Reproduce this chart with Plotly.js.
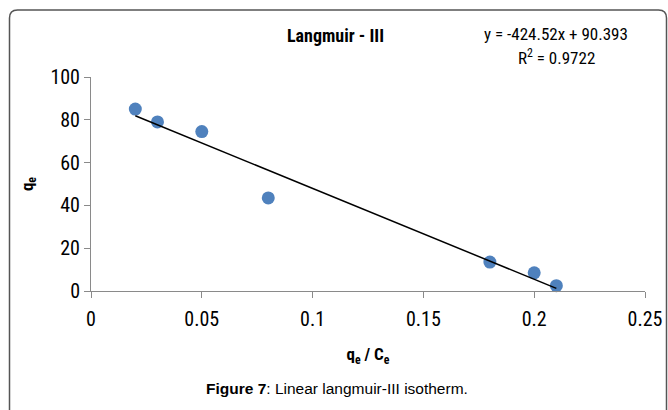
<!DOCTYPE html>
<html>
<head>
<meta charset="utf-8">
<script src="https://cdn.plot.ly/plotly-3.0.1.min.js"></script>
<style>
html,body{margin:0;padding:0;background:#fff;}
#chart{width:668px;height:410px;}
</style>
</head>
<body>
<div id="chart"></div>
<script>
// Data
const xValues = [0.02, 0.03, 0.05, 0.08, 0.18, 0.20, 0.21];
const yValues = [85, 79, 74.5, 43.5, 13.5, 8.5, 2.5];
// Trendline as stated on the chart: y = -424.52x + 90.393
const trendSlope = -424.52;
const trendIntercept = 90.393;
const trendX = [0.02, 0.21];
const trendY = trendX.map(function (x) { return trendSlope * x + trendIntercept; });
const xTicks = [0, 0.05, 0.1, 0.15, 0.2, 0.25];
const xTickLabels = ['0', '0.05', '0.1', '0.15', '0.2', '0.25'];
const yTicks = [0, 20, 40, 60, 80, 100];

const narrow = '"Liberation Sans Narrow", "Roboto Condensed", Roboto, sans-serif';

// plot area: x 91..645, y 77..291 (px)
const W = 554, H = 214, L = 91, B = 291;
function px(x) { return (x - L) / W; }
function py(y) { return (B - y) / H; }

const x0 = px(9.5), x1 = px(666.5), y0 = py(10), y1 = py(430);
const rx = 8 / W, ry = 8 / H;
const borderPath = 'M ' + x0 + ',' + y1 +
  ' L ' + x0 + ',' + (y0 - ry) +
  ' Q ' + x0 + ',' + y0 + ' ' + (x0 + rx) + ',' + y0 +
  ' L ' + (x1 - rx) + ',' + y0 +
  ' Q ' + x1 + ',' + y0 + ' ' + x1 + ',' + (y0 - ry) +
  ' L ' + x1 + ',' + y1;

const traces = [
  {
    x: xValues, y: yValues, type: 'scatter', mode: 'markers',
    marker: { color: '#4F81BD', size: 13, line: { width: 0 } },
    showlegend: false, cliponaxis: false
  },
  {
    x: trendX, y: trendY, type: 'scatter', mode: 'lines',
    line: { color: '#000000', width: 1.5 },
    showlegend: false
  }
];

const layout = {
  width: 668, height: 410,
  margin: { l: 91, r: 23, t: 77, b: 119, pad: 0 },
  paper_bgcolor: '#ffffff', plot_bgcolor: '#ffffff',
  showlegend: false,
  xaxis: {
    range: [0, 0.25], tickvals: xTicks, ticktext: xTickLabels,
    showgrid: false, zeroline: false, showline: true,
    linecolor: '#8a8a8a', linewidth: 1,
    ticks: 'outside', ticklen: 6, tickcolor: '#8a8a8a',
    ticklabelstandoff: 4,
    tickfont: { family: narrow, size: 20, color: '#000' },
    title: { text: '<b>q<sub>e</sub> / C<sub>e</sub></b>', font: { family: narrow, size: 17, color: '#000' }, standoff: 18 },
    anchor: 'y', fixedrange: true
  },
  yaxis: {
    range: [0, 100], tickvals: yTicks,
    showgrid: false, zeroline: false, showline: true,
    linecolor: '#8a8a8a', linewidth: 1,
    ticks: 'outside', ticklen: 6, tickcolor: '#8a8a8a',
    tickfont: { family: narrow, size: 20, color: '#000' },
    title: { text: '<b>q<sub>e</sub></b>', font: { family: narrow, size: 17, color: '#000' }, standoff: 12 },
    fixedrange: true
  },
  shapes: [
    { type: 'path', xref: 'paper', yref: 'paper', path: borderPath,
      line: { color: '#555555', width: 1.5 }, layer: 'above' }
  ],
  annotations: [
    { xref: 'paper', yref: 'paper', x: px(335), y: py(35), text: '<b>Langmuir - III</b>',
      showarrow: false, font: { family: narrow, size: 18, color: '#000' }, xanchor: 'center', yanchor: 'middle' },
    { xref: 'paper', yref: 'paper', x: px(556), y: py(34), text: 'y = -424.52x + 90.393',
      showarrow: false, font: { family: narrow, size: 17, color: '#000' }, xanchor: 'center', yanchor: 'middle' },
    { xref: 'paper', yref: 'paper', x: px(556), y: py(57), text: 'R<sup>2</sup> = 0.9722',
      showarrow: false, font: { family: narrow, size: 17, color: '#000' }, xanchor: 'center', yanchor: 'middle' },
    { xref: 'paper', yref: 'paper', x: px(337), y: py(388), text: '<b>Figure 7</b>: Linear langmuir-III isotherm.',
      showarrow: false, font: { family: 'Liberation Sans, Arial, sans-serif', size: 15.5, color: '#000' }, xanchor: 'center', yanchor: 'middle' }
  ]
};

Plotly.newPlot('chart', traces, layout, { displayModeBar: false, staticPlot: true });
</script>
</body>
</html>
